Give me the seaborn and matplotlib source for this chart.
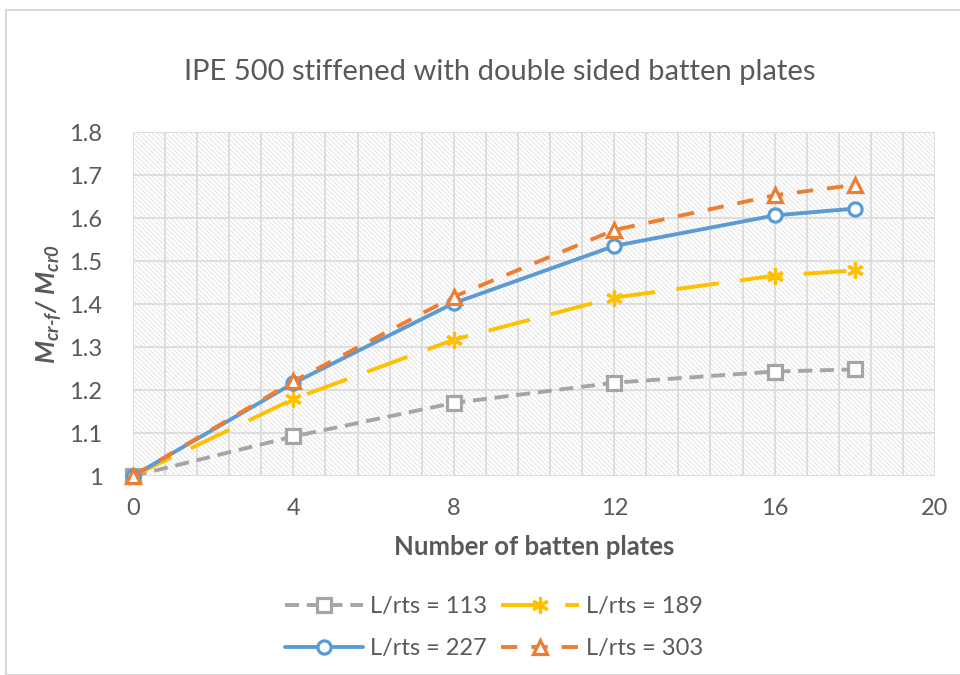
import matplotlib
matplotlib.use('Agg')
import matplotlib.pyplot as plt
from matplotlib.patches import Rectangle
from matplotlib.ticker import MultipleLocator
import seaborn as sns
import numpy as np

# data
plates = [0, 4, 8, 12, 16, 18]
lrts_113 = [1.0, 1.092, 1.170, 1.217, 1.243, 1.248]
lrts_189 = [1.0, 1.179, 1.317, 1.415, 1.466, 1.478]
lrts_227 = [1.0, 1.216, 1.402, 1.535, 1.606, 1.622]
lrts_303 = [1.0, 1.220, 1.417, 1.572, 1.653, 1.677]
labels = ['L/rts = 113', 'L/rts = 189', 'L/rts = 227', 'L/rts = 303']

sns.set_style('white')
plt.rcParams['font.family'] = ['Lato', 'DejaVu Sans']
plt.rcParams['mathtext.fontset'] = 'custom'
plt.rcParams['mathtext.it'] = 'Lato:italic:bold'
plt.rcParams['mathtext.rm'] = 'Lato:italic:bold'
plt.rcParams['hatch.linewidth'] = 0.6

txt = '#595959'
grid_c = '#d9d9d9'

fig = plt.figure(figsize=(9.6, 6.75), dpi=100)
ax = fig.add_axes([0.1385, 0.2948, 0.8355, 0.5096])

# chart border
fig.patches.append(Rectangle((6 / 960, 0), 1, 1 - 10 / 675, transform=fig.transFigure,
                             fill=False, edgecolor='#d9d9d9', linewidth=1.5))

# hatched plot area
ax.add_patch(Rectangle((0, 0), 1, 1, transform=ax.transAxes, facecolor='white',
                       edgecolor='#e0e0e0', hatch='\\' * 7, linewidth=0, zorder=0))

styles = [
    dict(color='#A5A5A5', dashes=(3.6, 2.0), marker='s', ms=9.5),
    dict(color='#FFC000', dashes=(11, 5.5), marker=(6, 2, 0), ms=12),
    dict(color='#5B9BD5', dashes=None, marker='o', ms=9.5),
    dict(color='#ED7D31', dashes=(4.2, 3.6), marker='^', ms=10),
]
series = [lrts_113, lrts_189, lrts_227, lrts_303]
handles = []
for vals, lab, st in zip(series, labels, styles):
    kw = dict(color=st['color'], marker=st['marker'], markersize=st['ms'],
              markerfacecolor='white', markeredgecolor=st['color'],
              markeredgewidth=2.3, linewidth=2.8, label=lab, legend=False,
              clip_on=False)
    sns.lineplot(x=plates, y=vals, ax=ax, **kw)
    line = ax.get_lines()[-1]
    if st['dashes'] is not None:
        line.set_dashes(st['dashes'])
    else:
        line.set_linestyle('-')
    handles.append(line)

ax.set_xlim(0, 20)
ax.set_ylim(1, 1.8)
ax.set_xticks([0, 4, 8, 12, 16, 20])
ax.xaxis.set_minor_locator(MultipleLocator(0.8))
ax.set_yticks(np.round(np.arange(1.0, 1.81, 0.1), 1))
ax.set_yticklabels(['1', '1.1', '1.2', '1.3', '1.4', '1.5', '1.6', '1.7', '1.8'])
ax.grid(True, which='major', axis='y', color=grid_c, linewidth=1.2)
ax.grid(True, which='both', axis='x', color=grid_c, linewidth=1.2)
ax.set_axisbelow(True)
for s in ax.spines.values():
    s.set_visible(False)
ax.tick_params(axis='both', which='both', length=0, labelsize=17, labelcolor=txt)
ax.tick_params(axis='x', pad=16)
ax.tick_params(axis='y', pad=22)

ax.set_xlabel('Number of batten plates', fontsize=18.5, fontweight='bold', color=txt, labelpad=11)
ax.set_ylabel(r'$M_{cr\text{-}f}/\ M_{cr0}$', fontsize=19, color=txt, labelpad=4)
fig.text(500 / 960, 1 - 72 / 675, 'IPE 500 stiffened with double sided batten plates',
         ha='center', va='center', fontsize=21, color=txt)

order = [0, 2, 1, 3]
leg = fig.legend([handles[i] for i in order], [labels[i] for i in order],
                 loc='center', bbox_to_anchor=(0.515, 0.07), ncol=2, frameon=False,
                 fontsize=17, handlelength=3.3, columnspacing=0.6, labelspacing=0.9,
                 handletextpad=0.3)
for t in leg.get_texts():
    t.set_color(txt)

fig.savefig('out.png', dpi=100)
